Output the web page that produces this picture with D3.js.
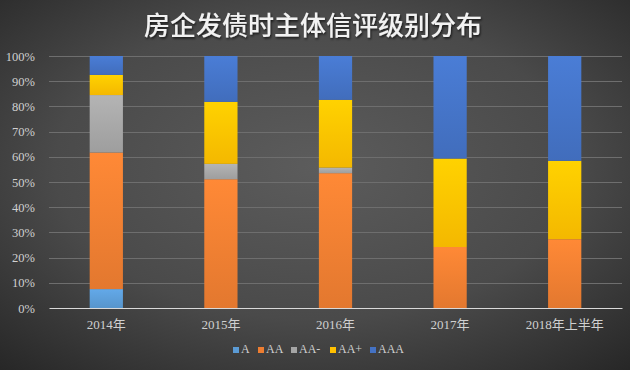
<!DOCTYPE html>
<html>
<head>
<meta charset="utf-8">
<script src="https://cdn.jsdelivr.net/npm/d3@7"></script>
<style>
  html, body { margin: 0; padding: 0; background: #333; }
  svg { display: block; }
</style>
</head>
<body>
<svg id="chart"></svg>
<script>
var width = 630,
    height = 370,
    margin = {top: 56, right: 8, bottom: 62, left: 49}

// categorias e séries (percentual)
var years = ["2014年", "2015年", "2016年", "2017年", "2018年上半年"]
var ratings = ["A", "AA", "AA-", "AA+", "AAA"]
var serieA   = [7.5, 0, 0, 0, 0]
var serieAA  = [54.2, 51.1, 53.5, 24.2, 27.3]
var serieAAm = [22.8, 6.1, 2.2, 0, 0]
var serieAAp = [8.0, 24.6, 26.9, 35.1, 31.1]
var serieAAA = [7.5, 18.2, 17.4, 40.7, 41.6]
var yTicks = [0, 10, 20, 30, 40, 50, 60, 70, 80, 90, 100]

var cores = ["#5b9bd5", "#ed7d31", "#a5a5a5", "#ffc000", "#4472c4"]

var tabela = years.map(function(ano, i) {
    return {ano: ano, "A": serieA[i], "AA": serieAA[i], "AA-": serieAAm[i], "AA+": serieAAp[i], "AAA": serieAAA[i]}
})

var svg = d3.select("#chart")
    .attr("width", width)
    .attr("height", height)

var defs = svg.append("defs")

// fundo com gradiente radial
var fundo = defs.append("radialGradient")
    .attr("id", "fundo")
    .attr("cx", "50%").attr("cy", "45%").attr("r", "75%")
fundo.append("stop").attr("offset", "0%").attr("stop-color", "#5c5c5c")
fundo.append("stop").attr("offset", "55%").attr("stop-color", "#4a4a4a")
fundo.append("stop").attr("offset", "100%").attr("stop-color", "#262626")

// gradiente vertical de cada série
cores.forEach(function(c, i) {
    var g = defs.append("linearGradient")
        .attr("id", "grad" + i)
        .attr("x1", 0).attr("y1", 0).attr("x2", 0).attr("y2", 1)
    g.append("stop").attr("offset", "0%").attr("stop-color", d3.color(c).brighter(0.25))
    g.append("stop").attr("offset", "100%").attr("stop-color", d3.color(c).darker(0.12))
})

var sombra = defs.append("filter").attr("id", "sombra")
sombra.append("feDropShadow")
    .attr("dx", 1).attr("dy", 1.5).attr("stdDeviation", 1.2)
    .attr("flood-color", "#000").attr("flood-opacity", 0.7)

svg.append("rect")
    .attr("width", width)
    .attr("height", height)
    .attr("fill", "url(#fundo)")

svg.append("text")
    .attr("x", 313)
    .attr("y", 35)
    .attr("text-anchor", "middle")
    .attr("fill", "#f2f2f2")
    .attr("filter", "url(#sombra)")
    .style("font-family", "'Noto Sans CJK SC', sans-serif")
    .style("font-size", "26px")
    .style("font-weight", "500")
    .text("房企发债时主体信评级别分布")

var x = d3.scaleBand()
    .domain(years)
    .range([margin.left, width - margin.right])
    .paddingInner(0.71)
    .paddingOuter(0.355)

var y = d3.scaleLinear()
    .domain([0, 100])
    .range([height - margin.bottom, margin.top])

var fonteEixo = "'Liberation Serif', 'Noto Sans CJK SC', serif"

// linhas de grade
svg.append("g")
    .selectAll("line")
    .data(yTicks.slice(1))
  .enter().append("line")
    .attr("x1", margin.left)
    .attr("x2", width - margin.right)
    .attr("y1", function(d) { return Math.round(y(d)) + 0.5 })
    .attr("y2", function(d) { return Math.round(y(d)) + 0.5 })
    .attr("stroke", "#6e6e6e")
    .attr("stroke-width", 1)

// eixo Y
var eixoY = svg.append("g")
    .attr("transform", "translate(" + (margin.left - 11) + ",0)")
    .call(d3.axisLeft(y).tickValues(yTicks).tickSize(0).tickFormat(function(d) { return d + "%" }))
eixoY.select(".domain").remove()
eixoY.selectAll("text")
    .attr("fill", "#d0d0d0")
    .style("font-family", fonteEixo)
    .style("font-size", "12.5px")

// barras empilhadas
var pilha = d3.stack().keys(ratings)(tabela)

svg.append("g")
    .selectAll("g")
    .data(pilha)
  .enter().append("g")
    .attr("fill", function(d, i) { return "url(#grad" + i + ")" })
    .selectAll("rect")
    .data(function(d) { return d })
  .enter().append("rect")
    .attr("x", function(d) { return x(d.data.ano) })
    .attr("width", x.bandwidth())
    .attr("y", function(d) { return y(d[1]) })
    .attr("height", function(d) { return y(d[0]) - y(d[1]) })

// eixo X
var eixoX = svg.append("g")
    .attr("transform", "translate(0," + (height - margin.bottom) + ")")
    .call(d3.axisBottom(x).tickSize(0).tickPadding(12))
eixoX.select(".domain")
    .attr("stroke", "#d9d9d9")
    .attr("stroke-width", 1.2)
eixoX.selectAll("text")
    .attr("fill", "#d0d0d0")
    .style("font-family", fonteEixo)
    .style("font-size", "13px")

// legenda
var legX = d3.scaleOrdinal()
    .domain(ratings)
    .range([233, 258, 291, 330, 370])

var leg = svg.append("g")
    .selectAll("g")
    .data(ratings)
  .enter().append("g")
    .attr("transform", function(d) { return "translate(" + legX(d) + ",347)" })
leg.append("rect")
    .attr("width", 6)
    .attr("height", 6)
    .attr("fill", function(d, i) { return cores[i] })
leg.append("text")
    .attr("x", 8)
    .attr("y", 6)
    .attr("fill", "#d0d0d0")
    .style("font-family", fonteEixo)
    .style("font-size", "12px")
    .text(function(d) { return d })
</script>
</body>
</html>
